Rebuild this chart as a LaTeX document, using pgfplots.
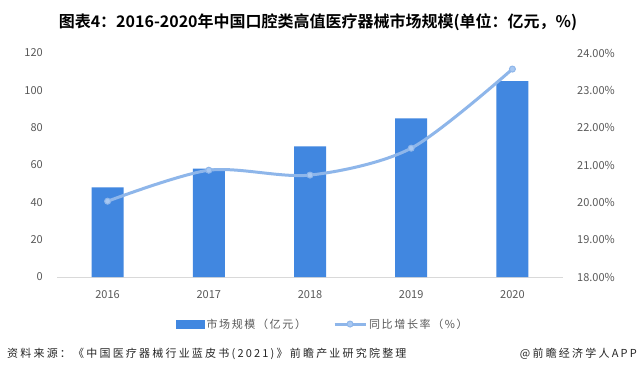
\documentclass[border=0pt]{standalone}
\usepackage{pgfplots}
\pgfplotsset{compat=1.18}
\usepackage{fontspec}
\setmainfont{Noto Sans CJK SC}[BoldFont={Noto Sans CJK SC Bold}]
\newfontfamily\spaced{Noto Sans CJK SC}[LetterSpace=15]
\newfontfamily\spacedb{Noto Sans CJK SC}[LetterSpace=20]
\definecolor{barblue}{RGB}{65,135,224}
\definecolor{lineblue}{RGB}{142,182,234}
\definecolor{markblue}{RGB}{168,200,242}
\definecolor{ticktext}{RGB}{89,89,89}
\definecolor{axisgray}{RGB}{217,217,217}
\definecolor{foot}{RGB}{38,38,38}
\begin{document}
\begin{tikzpicture}[x=1pt,y=1pt]
\path[use as bounding box, fill=white] (0,0) rectangle (638,376);
\node[font=\bfseries\fontsize{16}{18}\selectfont, anchor=center] at (318,354) {图表4：2016-2020年中国口腔类高值医疗器械市场规模(单位：亿元，\%)};
\begin{axis}[
  at={(57pt,99pt)}, anchor=south west, scale only axis,
  width=506pt, height=224pt,
  xmin=-0.5, xmax=4.5, ymin=0, ymax=120,
  xtick={0,1,2,3,4}, xticklabels={2016,2017,2018,2019,2020},
  ytick={0,20,40,60,80,100,120},
  axis x line*=bottom, axis y line*=left,
  x axis line style={-, draw=axisgray, line width=0.8pt},
  y axis line style={draw=none},
  tick style={draw=none}, major tick length=0pt,
  /pgf/number format/assume math mode=true,
  tick label style={font=\fontsize{11}{13}\selectfont, text=ticktext},
  yticklabel style={inner sep=0pt, xshift=-14pt},
  xticklabel style={inner sep=0pt, yshift=-13pt},
  clip=false,
]
\addplot[ybar, bar width=32pt, fill=barblue, draw=none] coordinates {(0,48) (1,58) (2,70) (3,85) (4,105)};
\end{axis}
\begin{axis}[
  at={(57pt,99pt)}, anchor=south west, scale only axis,
  width=506pt, height=224pt,
  xmin=-0.5, xmax=4.5, ymin=18, ymax=24,
  ytick={18,19,20,21,22,23,24},
  axis x line=none, axis y line*=right,
  y axis line style={draw=none},
  tick style={draw=none}, major tick length=0pt,
  /pgf/number format/assume math mode=true,
  yticklabel={\pgfmathprintnumber[fixed,fixed zerofill,precision=2]{\tick}\%},
  tick label style={font=\fontsize{11}{13}\selectfont, text=ticktext},
  yticklabel style={inner sep=0pt, xshift=14pt},
  clip=false,
  legend columns=2,
  legend style={at={(axis description cs:0.235,-0.21)}, anchor=west, draw=none, fill=none, inner sep=0pt,
    font=\spaced\fontsize{11}{13}\selectfont, text=ticktext,
    nodes={inner sep=2pt},
    /tikz/every even column/.append style={column sep=25pt}},
]
\addlegendimage{legend image code/.code={\fill[barblue] (0pt,-4pt) rectangle (28pt,4pt);}}
\addlegendentry{市场规模（亿元）}
\addlegendimage{legend image code/.code={\draw[lineblue, line width=3pt, mark=*, mark size=3pt, mark options={fill=markblue, draw=lineblue, line width=1pt}, mark repeat=2, mark phase=2] plot coordinates {(0pt,0pt) (15.5pt,0pt) (31pt,0pt)};}}
\addlegendentry{同比增长率（\%）}
\addplot[lineblue, line width=3pt, smooth, mark=*, mark size=3pt,
  mark options={fill=markblue, draw=lineblue, line width=1pt}, forget plot]
  coordinates {(0,20.03) (1,20.86) (2,20.73) (3,21.45) (4,23.57)};
\end{axis}
\node[anchor=west, font=\spacedb\fontsize{11}{13}\selectfont, text=foot, inner sep=0pt] at (7,22) {资料来源：《中国医疗器械行业蓝皮书(2021)》前瞻产业研究院整理};
\node[anchor=east, font=\spacedb\fontsize{11}{13}\selectfont, text=foot, inner sep=0pt] at (637,22) {@前瞻经济学人APP};
\end{tikzpicture}
\end{document}
